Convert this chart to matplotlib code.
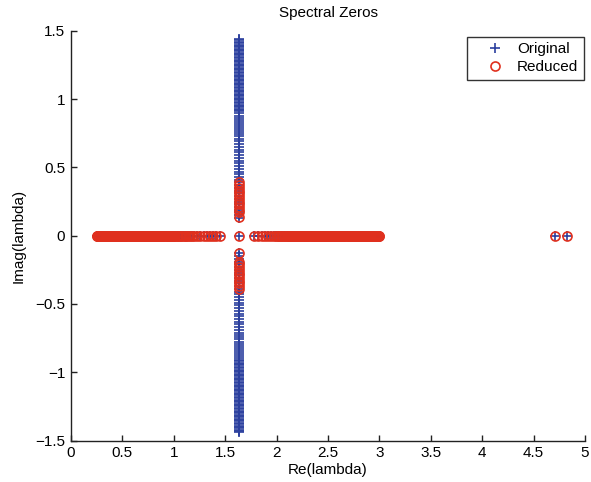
import matplotlib
matplotlib.use("Agg")
import matplotlib.pyplot as plt

# ---------------- data ----------------
# zeros on the real axis (shared by original and reduced models)
real_axis_re = [0.25, 0.255, 0.26, 0.265, 0.27, 0.28, 0.29, 0.30, 0.31, 0.32,
                0.33, 0.34, 0.35, 0.36, 0.37, 0.38, 0.39, 0.40, 0.41, 0.42,
                0.43, 0.44, 0.45, 0.46, 0.47, 0.48, 0.49, 0.50, 0.51, 0.52,
                0.53, 0.54, 0.55, 0.56, 0.57, 0.58, 0.59, 0.60, 0.61, 0.62,
                0.63, 0.64, 0.65, 0.66, 0.67, 0.68, 0.69, 0.70, 0.71, 0.72,
                0.73, 0.74, 0.75, 0.76, 0.77, 0.78, 0.79, 0.80, 0.81, 0.82,
                0.83, 0.84, 0.85, 0.86, 0.87, 0.88, 0.89, 0.90, 0.91, 0.92,
                0.93, 0.94, 0.95, 0.96, 0.97, 0.98, 0.99, 1.00, 1.015, 1.03,
                1.045, 1.06, 1.075, 1.09, 1.105, 1.12, 1.14, 1.16, 1.18, 1.20,
                1.23, 1.26, 1.29, 1.32, 1.35, 1.38, 1.41, 1.45, 1.63, 1.78,
                1.82, 1.86, 1.89, 1.92, 1.95, 1.97, 1.99, 2.01, 2.025, 2.04,
                2.055, 2.07, 2.085, 2.10, 2.11, 2.12, 2.13, 2.14, 2.15, 2.16,
                2.17, 2.18, 2.19, 2.20, 2.21, 2.22, 2.23, 2.24, 2.25, 2.26,
                2.27, 2.28, 2.29, 2.30, 2.31, 2.32, 2.33, 2.34, 2.35, 2.36,
                2.37, 2.38, 2.39, 2.40, 2.41, 2.42, 2.43, 2.44, 2.45, 2.46,
                2.47, 2.48, 2.49, 2.50, 2.51, 2.52, 2.53, 2.54, 2.55, 2.56,
                2.57, 2.58, 2.59, 2.60, 2.61, 2.62, 2.63, 2.64, 2.65, 2.66,
                2.67, 2.68, 2.69, 2.70, 2.71, 2.72, 2.73, 2.74, 2.75, 2.76,
                2.77, 2.78, 2.79, 2.80, 2.81, 2.82, 2.83, 2.84, 2.85, 2.86,
                2.87, 2.88, 2.89, 2.90, 2.91, 2.92, 2.93, 2.94, 2.95, 2.96,
                2.965, 2.97, 2.975, 2.98, 2.985, 2.99, 2.995, 3.00, 4.71, 4.82]

# original model: zeros on the vertical line Re = 1.63 (positive imag parts, mirrored)
orig_vert_re = 1.63
orig_vert_im = [0.13, 0.15, 0.17, 0.19, 0.21, 0.23, 0.25, 0.27, 0.29, 0.31,
                0.33, 0.35, 0.37, 0.39, 0.41, 0.43, 0.45, 0.47, 0.49, 0.51,
                0.53, 0.55, 0.57, 0.59, 0.61, 0.63, 0.65, 0.67, 0.69, 0.71,
                0.73, 0.745, 0.76, 0.775, 0.79, 0.805, 0.82, 0.835, 0.85, 0.865,
                0.88, 0.895, 0.91, 0.92, 0.93, 0.94, 0.95, 0.96, 0.97, 0.98,
                0.99, 1.00, 1.01, 1.02, 1.03, 1.04, 1.05, 1.06, 1.07, 1.08,
                1.09, 1.10, 1.11, 1.12, 1.13, 1.14, 1.15, 1.16, 1.17, 1.18,
                1.19, 1.20, 1.21, 1.22, 1.23, 1.24, 1.25, 1.26, 1.27, 1.28,
                1.29, 1.30, 1.31, 1.32, 1.33, 1.34, 1.35, 1.36, 1.37, 1.38,
                1.39, 1.40, 1.41, 1.42, 1.43, 1.44]

# reduced model: zeros on the vertical line Re = 1.63
red_vert_re = 1.63
red_vert_im_pos = [0.138, 0.17, 0.19, 0.21, 0.23, 0.25, 0.27, 0.29, 0.31,
                   0.33, 0.35, 0.37, 0.39]
red_vert_im_neg = [-0.128, -0.19, -0.21, -0.23, -0.25, -0.27, -0.29, -0.31,
                   -0.33, -0.35, -0.37, -0.39]

# ---------------- plot ----------------
plt.rcParams['font.family'] = ['Liberation Sans', 'DejaVu Sans']
fig = plt.figure(figsize=(5.91, 4.82), dpi=100)
ax = fig.add_axes([0.120, 0.086, 0.870, 0.850])

blue = '#2b3f9e'
red = '#e0301e'
ms = 6.5

orig_x = list(real_axis_re) + [orig_vert_re] * (2 * len(orig_vert_im))
orig_y = [0.0] * len(real_axis_re) + list(orig_vert_im) + [-v for v in orig_vert_im]
red_x = list(real_axis_re) + [red_vert_re] * (len(red_vert_im_pos) + len(red_vert_im_neg))
red_y = [0.0] * len(real_axis_re) + red_vert_im_pos + red_vert_im_neg

ax.plot(orig_x, orig_y, linestyle='none', marker='+', color=blue,
        markersize=ms, markeredgewidth=1.2, label='Original')
ax.plot(red_x, red_y, linestyle='none', marker='o', markerfacecolor='none',
        markeredgecolor=red, markersize=ms, markeredgewidth=1.2, label='Reduced')

ax.set_xlim(0, 5)
ax.set_ylim(-1.5, 1.5)
ax.set_xticks([0, 0.5, 1, 1.5, 2, 2.5, 3, 3.5, 4, 4.5, 5])
ax.set_xticklabels(['0', '0.5', '1', '1.5', '2', '2.5', '3', '3.5', '4', '4.5', '5'])
ax.set_yticks([-1.5, -1, -0.5, 0, 0.5, 1, 1.5])
ax.set_yticklabels(['\u22121.5', '\u22121', '\u22120.5', '0', '0.5', '1', '1.5'])

for s in ['top', 'right']:
    ax.spines[s].set_visible(False)
for s in ['left', 'bottom']:
    ax.spines[s].set_color('#222222')
    ax.spines[s].set_linewidth(1.0)
ax.tick_params(direction='in', length=4, width=1.0, colors='#222222',
               labelsize=11, labelcolor='black', pad=4)

ax.set_title('Spectral Zeros', fontsize=11, pad=10)
ax.set_xlabel('Re(lambda)', fontsize=11, labelpad=2)
ax.set_ylabel('Imag(lambda)', fontsize=11, labelpad=7)

leg = ax.legend(loc='upper right', bbox_to_anchor=(0.997, 0.985), fontsize=11,
                frameon=True, fancybox=False, edgecolor='black', borderpad=0.35,
                handletextpad=0.0, handlelength=2.9, labelspacing=0.25,
                borderaxespad=0.0)
leg.get_frame().set_linewidth(1.0)

fig.savefig('out.png', dpi=100)
